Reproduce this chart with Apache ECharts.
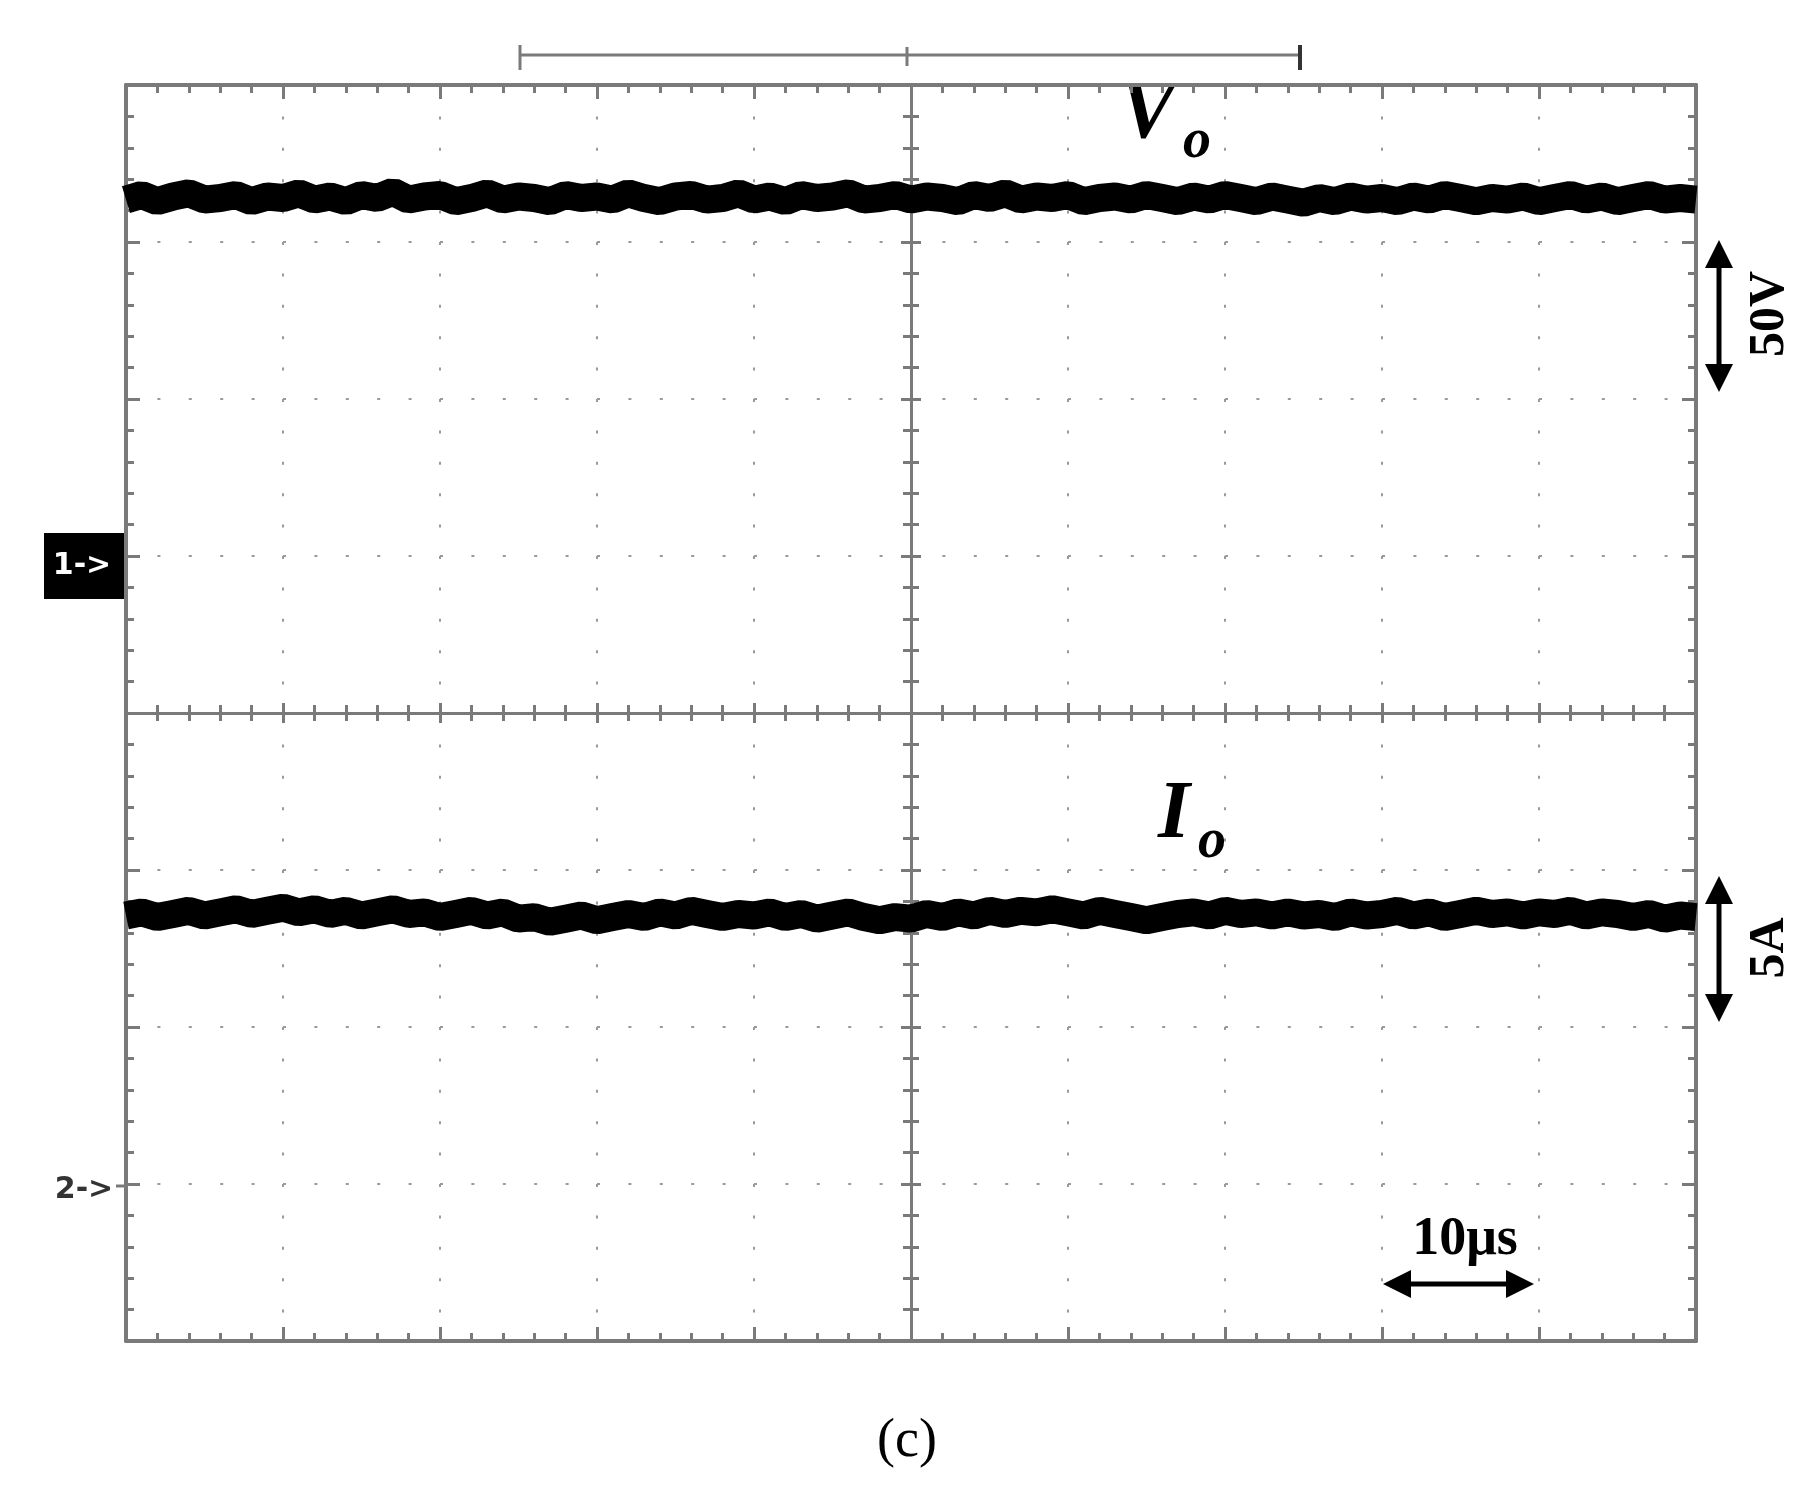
<!DOCTYPE html>
<html><head><meta charset="utf-8">
<script src="https://cdn.jsdelivr.net/npm/echarts@6/dist/echarts.min.js"></script>
<style>html,body{margin:0;padding:0;background:#fff}#c{width:1815px;height:1488px}</style>
</head><body><div id="c"></div>
<script>
const timeDiv = [];
for (let i = 0; i <= 100; i++) timeDiv.push(+(i * 0.1 - 5).toFixed(1));
const voValues = [3.27,3.30,3.26,3.29,3.31,3.27,3.28,3.30,3.26,3.29,3.28,3.31,3.27,3.29,3.26,3.30,3.28,3.32,3.27,3.29,
3.30,3.26,3.28,3.31,3.27,3.29,3.28,3.26,3.30,3.28,3.29,3.27,3.31,3.28,3.26,3.29,3.30,3.27,3.28,3.31,
3.27,3.29,3.26,3.30,3.28,3.29,3.31,3.27,3.28,3.30,3.27,3.29,3.28,3.26,3.30,3.28,3.31,3.27,3.29,3.28,
3.30,3.26,3.28,3.29,3.27,3.30,3.28,3.26,3.29,3.27,3.30,3.28,3.26,3.29,3.27,3.25,3.28,3.26,3.29,3.27,
3.28,3.26,3.29,3.27,3.30,3.28,3.26,3.28,3.27,3.29,3.26,3.28,3.30,3.27,3.29,3.26,3.28,3.30,3.27,3.28,3.27];
const ioValues = [-1.29,-1.27,-1.30,-1.28,-1.26,-1.29,-1.27,-1.25,-1.28,-1.26,-1.24,-1.27,-1.25,-1.28,-1.26,-1.29,-1.27,-1.25,-1.28,-1.27,
-1.30,-1.28,-1.26,-1.29,-1.27,-1.31,-1.30,-1.33,-1.31,-1.29,-1.32,-1.30,-1.28,-1.30,-1.27,-1.29,-1.26,-1.28,-1.30,-1.28,
-1.29,-1.27,-1.30,-1.28,-1.31,-1.29,-1.27,-1.30,-1.32,-1.30,-1.31,-1.28,-1.30,-1.27,-1.29,-1.26,-1.28,-1.26,-1.27,-1.25,
-1.27,-1.29,-1.26,-1.28,-1.30,-1.32,-1.30,-1.28,-1.27,-1.29,-1.26,-1.28,-1.27,-1.29,-1.27,-1.29,-1.28,-1.30,-1.27,-1.29,
-1.28,-1.26,-1.29,-1.27,-1.30,-1.28,-1.26,-1.28,-1.27,-1.29,-1.27,-1.28,-1.26,-1.29,-1.27,-1.28,-1.30,-1.28,-1.31,-1.29,-1.30];
const voLabel = 'V', ioLabel = 'I', vScale = '50V', iScale = '5A', tScale = '10\u03bcs', caption = '(c)';

const grid = {left:126, top:85, width:1570, height:1256};
const gray = '#7a7a7a';
const dots = {show:true, lineStyle:{color:'#9a9a9a', width:2, type:[3,28.4]}};
function xa(pos, onZero, showSplit){
  return {type:'value', min:-5, max:5, interval:1, position:pos,
    axisLine:{show:true, onZero:onZero, lineStyle:{color:gray, width:onZero?3:4}},
    axisTick:{show:true, inside:true, length:onZero?10:14, lineStyle:{color:gray,width:3}},
    minorTick:{show:true, splitNumber:5, length:8, lineStyle:{color:gray,width:3}},
    axisLabel:{show:false}, splitLine:showSplit?dots:{show:false}};
}
function ya(pos, onZero, showSplit){
  return {type:'value', min:-4, max:4, interval:1, position:pos,
    axisLine:{show:true, onZero:onZero, lineStyle:{color:gray, width:onZero?3:4}},
    axisTick:{show:true, inside:true, length:onZero?10:14, lineStyle:{color:gray,width:3}},
    minorTick:{show:true, splitNumber:5, length:8, lineStyle:{color:gray,width:3}},
    axisLabel:{show:false}, splitLine:showSplit?dots:{show:false}};
}
const chart = echarts.init(document.getElementById('c'));
chart.setOption({
  animation:false,
  grid:grid,
  xAxis:[xa('bottom',false,true), xa('top',false,false), xa('bottom',true,false), xa('top',true,false)],
  yAxis:[ya('left',false,true), ya('right',false,false), ya('left',true,false), ya('right',true,false)],
  series:[
    {type:'line', xAxisIndex:0, yAxisIndex:0, showSymbol:false, data:timeDiv.map((x,i)=>[x,voValues[i]]), lineStyle:{color:'#000',width:28}},
    {type:'line', xAxisIndex:0, yAxisIndex:0, showSymbol:false, data:timeDiv.map((x,i)=>[x,ioValues[i]]), lineStyle:{color:'#000',width:28}}
  ],
  graphic:[
    {type:'line', shape:{x1:520,y1:55,x2:1300,y2:55}, style:{stroke:gray,lineWidth:3}},
    {type:'line', shape:{x1:520,y1:45,x2:520,y2:70}, style:{stroke:gray,lineWidth:3}},
    {type:'line', shape:{x1:1300,y1:45,x2:1300,y2:70}, style:{stroke:'#333',lineWidth:4}},
    {type:'line', shape:{x1:907,y1:47,x2:907,y2:66}, style:{stroke:gray,lineWidth:3}},
    {type:'text', x:1120, y:75, style:{text:voLabel, font:'italic bold 82px "Liberation Serif"', fill:'#000'}},
    {type:'text', x:1183, y:115, style:{text:'o', font:'italic bold 56px "Liberation Serif"', fill:'#000'}},
    {type:'text', x:1158, y:775, style:{text:ioLabel, font:'italic bold 82px "Liberation Serif"', fill:'#000'}},
    {type:'text', x:1198, y:815, style:{text:'o', font:'italic bold 56px "Liberation Serif"', fill:'#000'}},
    {type:'line', shape:{x1:1719,y1:252,x2:1719,y2:380}, style:{stroke:'#000',lineWidth:5}},
    {type:'polygon', shape:{points:[[1719,240],[1705,268],[1733,268]]}, style:{fill:'#000'}},
    {type:'polygon', shape:{points:[[1719,392],[1705,364],[1733,364]]}, style:{fill:'#000'}},
    {type:'text', x:1770, y:314, rotation:Math.PI/2, style:{text:vScale, font:'bold 50px "Liberation Serif"', fill:'#000', align:'center', verticalAlign:'middle'}},
    {type:'line', shape:{x1:1719,y1:888,x2:1719,y2:1010}, style:{stroke:'#000',lineWidth:5}},
    {type:'polygon', shape:{points:[[1719,876],[1705,904],[1733,904]]}, style:{fill:'#000'}},
    {type:'polygon', shape:{points:[[1719,1022],[1705,994],[1733,994]]}, style:{fill:'#000'}},
    {type:'text', x:1770, y:948, rotation:Math.PI/2, style:{text:iScale, font:'bold 50px "Liberation Serif"', fill:'#000', align:'center', verticalAlign:'middle'}},
    {type:'text', x:1465, y:1240, style:{text:tScale, font:'bold 54px "Liberation Serif"', fill:'#000', align:'center', verticalAlign:'middle'}},
    {type:'line', shape:{x1:1395,y1:1284,x2:1522,y2:1284}, style:{stroke:'#000',lineWidth:5}},
    {type:'polygon', shape:{points:[[1383,1284],[1411,1270],[1411,1298]]}, style:{fill:'#000'}},
    {type:'polygon', shape:{points:[[1534,1284],[1506,1270],[1506,1298]]}, style:{fill:'#000'}},
    {type:'text', x:907, y:1442, style:{text:caption, font:'54px "Liberation Serif"', fill:'#000', align:'center', verticalAlign:'middle'}},
    {type:'rect', shape:{x:44,y:533,width:80,height:66}, style:{fill:'#000'}},
    {type:'text', x:82, y:566, style:{text:'1->', font:'bold 30px "DejaVu Sans"', fill:'#fff', align:'center', verticalAlign:'middle'}},
    {type:'text', x:84, y:1190, style:{text:'2->', font:'bold 30px "DejaVu Sans"', fill:'#333', align:'center', verticalAlign:'middle'}},
    {type:'line', shape:{x1:116,y1:1186,x2:126,y2:1186}, style:{stroke:gray,lineWidth:3}}
  ]
});
</script></body></html>
